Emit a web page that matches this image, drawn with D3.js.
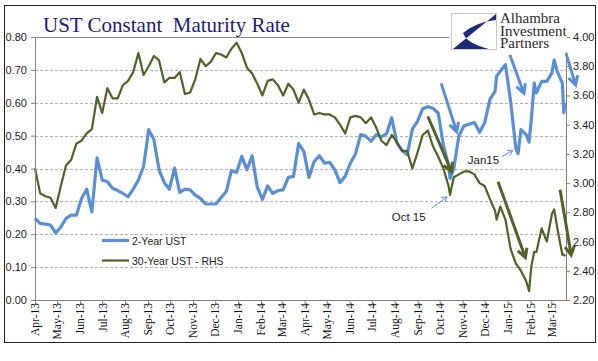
<!DOCTYPE html>
<html><head><meta charset="utf-8">
<script src="https://cdn.jsdelivr.net/npm/d3@7"></script>
<style>body{margin:0;background:#fff}svg{display:block}</style>
</head><body>
<svg id="c" width="598" height="361"></svg>
<script>
const dates = ["2013-04-01","2013-04-08","2013-04-15","2013-04-22","2013-04-29","2013-05-06","2013-05-13","2013-05-20","2013-05-27","2013-06-03","2013-06-10","2013-06-17","2013-06-24","2013-07-01","2013-07-08","2013-07-15","2013-07-22","2013-07-29","2013-08-05","2013-08-12","2013-08-19","2013-08-26","2013-09-02","2013-09-09","2013-09-16","2013-09-23","2013-09-30","2013-10-07","2013-10-14","2013-10-21","2013-10-28","2013-11-04","2013-11-11","2013-11-18","2013-11-25","2013-12-02","2013-12-09","2013-12-16","2013-12-23","2013-12-30","2014-01-06","2014-01-13","2014-01-20","2014-01-27","2014-02-03","2014-02-10","2014-02-17","2014-02-24","2014-03-03","2014-03-10","2014-03-17","2014-03-24","2014-03-31","2014-04-07","2014-04-14","2014-04-21","2014-04-28","2014-05-05","2014-05-12","2014-05-19","2014-05-26","2014-06-02","2014-06-09","2014-06-16","2014-06-23","2014-06-30","2014-07-07","2014-07-14","2014-07-21","2014-07-28","2014-08-04","2014-08-11","2014-08-18","2014-08-25","2014-09-01","2014-09-08","2014-09-15","2014-09-22","2014-09-29","2014-10-06","2014-10-13","2014-10-15","2014-10-20","2014-10-27","2014-11-03","2014-11-10","2014-11-17","2014-11-24","2014-12-01","2014-12-08","2014-12-15","2014-12-17","2014-12-22","2014-12-29","2015-01-05","2015-01-12","2015-01-15","2015-01-19","2015-01-26","2015-01-30","2015-02-02","2015-02-06","2015-02-09","2015-02-16","2015-02-23","2015-03-02","2015-03-05","2015-03-09","2015-03-16","2015-03-18","2015-03-20"];

const twoYearUST = [0.248,0.233,0.231,0.228,0.204,0.222,0.248,0.258,0.258,0.309,0.337,0.268,0.432,0.365,0.360,0.340,0.333,0.324,0.314,0.337,0.365,0.406,0.518,0.488,0.396,0.357,0.337,0.401,0.327,0.337,0.335,0.319,0.309,0.292,0.292,0.292,0.312,0.330,0.394,0.388,0.437,0.396,0.439,0.343,0.306,0.347,0.324,0.333,0.335,0.373,0.376,0.476,0.452,0.373,0.421,0.439,0.416,0.419,0.396,0.357,0.376,0.416,0.445,0.503,0.498,0.483,0.503,0.496,0.506,0.554,0.478,0.455,0.442,0.520,0.544,0.582,0.588,0.583,0.568,0.470,0.410,0.370,0.400,0.500,0.530,0.535,0.540,0.510,0.540,0.610,0.635,0.680,0.696,0.716,0.605,0.462,0.445,0.518,0.503,0.480,0.549,0.660,0.630,0.665,0.665,0.691,0.730,0.696,0.660,0.570,0.600];

const thirtyYearUST = [3.10,2.93,2.91,2.90,2.83,2.98,3.12,3.16,3.27,3.29,3.34,3.37,3.59,3.48,3.65,3.58,3.58,3.67,3.70,3.76,3.89,3.74,3.80,3.87,3.84,3.69,3.72,3.72,3.76,3.61,3.62,3.71,3.85,3.80,3.83,3.89,3.88,3.86,3.92,3.96,3.89,3.79,3.75,3.68,3.60,3.70,3.71,3.67,3.60,3.68,3.64,3.55,3.64,3.57,3.47,3.48,3.47,3.47,3.45,3.40,3.34,3.45,3.46,3.45,3.41,3.45,3.38,3.29,3.26,3.33,3.28,3.22,3.22,3.10,3.21,3.33,3.36,3.25,3.18,3.10,2.98,2.92,3.04,3.06,3.08,3.08,3.06,3.00,2.98,2.89,2.81,2.75,2.84,2.75,2.55,2.45,2.43,2.40,2.33,2.26,2.43,2.53,2.53,2.69,2.60,2.79,2.82,2.70,2.51,2.51,2.50];

const leftTicks = [0,0.1,0.2,0.3,0.4,0.5,0.6,0.7,0.8];
const rightTicks = [2.2,2.4,2.6,2.8,3.0,3.2,3.4,3.6,3.8,4.0];
const monthTicks = ["2013-04-01","2013-05-01","2013-06-01","2013-07-01","2013-08-01","2013-09-01","2013-10-01","2013-11-01","2013-12-01","2014-01-01","2014-02-01","2014-03-01","2014-04-01","2014-05-01","2014-06-01","2014-07-01","2014-08-01","2014-09-01","2014-10-01","2014-11-01","2014-12-01","2015-01-01","2015-02-01","2015-03-01"];
const seriesNames = ["2-Year UST","30-Year UST - RHS"];

// annotations in data units
const blueArrows = [[["2014-10-03",0.659],["2014-10-24",0.512]],[["2015-01-04",0.745],["2015-01-23",0.629]],[["2015-03-21",0.751],["2015-04-03",0.654]]];
const greenArrows = [[["2014-09-15",3.456],["2014-10-17",3.078]],[["2014-12-19",3.01],["2015-01-25",2.49]],[["2015-03-13",2.954],["2015-03-28",2.508]]];
const thinArrows = [[["2014-09-20",0.279],["2014-10-11",0.314]],[["2014-12-24",0.436],["2015-01-08",0.455]]];
const noteLabels = [["Oct 15","2014-07-28",0.239],["Jan15","2014-11-08",0.415]];

const parse = d3.timeParse("%Y-%m-%d");
const BLUE = "#5a8fd6", GREEN = "#4f6228";
const svg = d3.select("#c");
const L = 35, R = 566, T = 37, B = 300;
const x = d3.scaleTime().domain([parse("2013-04-01"), parse("2015-03-21")]).range([L, R]);
const yL = d3.scaleLinear().domain([0, 0.8]).range([B, T]);
const yR = d3.scaleLinear().domain([2.2, 4.0]).range([B, T]);

svg.append("rect").attr("width",598).attr("height",361).attr("fill","#fff");
svg.append("rect").attr("x",4.5).attr("y",5.5).attr("width",591).attr("height",337)
  .attr("fill","none").attr("stroke","#222").attr("stroke-width",1);

// gridlines
leftTicks.forEach(v => {
  if (v === 0) return;
  svg.append("line").attr("x1",L).attr("x2",R).attr("y1",Math.round(yL(v))+0.5).attr("y2",Math.round(yL(v))+0.5)
    .attr("stroke", v===0.8 ? "#8c8c8c" : "#b3b3b3").attr("stroke-width",1)
    .attr("stroke-dasharray", v===0.8 ? null : "3,2");
});

// series
const pts = dates.map(parse);
const lineL = d3.line().x((d,i)=>x(pts[i])).y(d=>yL(d));
const lineR = d3.line().x((d,i)=>x(pts[i])).y(d=>yR(d));
svg.append("path").attr("d", lineL(twoYearUST)).attr("fill","none").attr("stroke",BLUE).attr("stroke-width",3.2).attr("stroke-linejoin","round");
svg.append("path").attr("d", lineR(thirtyYearUST)).attr("fill","none").attr("stroke",GREEN).attr("stroke-width",2.2).attr("stroke-linejoin","round");

// axes
const fmt = d3.timeFormat("%b-%y");
const xa = svg.append("g").attr("transform",`translate(0,${B})`)
  .call(d3.axisBottom(x).tickValues(monthTicks.map(parse)).tickFormat(fmt).tickSize(4).tickSizeOuter(0));
xa.selectAll("text").attr("transform","rotate(-90)").attr("text-anchor","end")
  .attr("x",-3).attr("y",0).attr("dy","0.33em")
  .style("font-family","'Liberation Serif','Times New Roman',serif").style("font-size","11.5px").attr("fill","#111");

const ya = svg.append("g").attr("transform",`translate(${L},0)`)
  .call(d3.axisLeft(yL).tickValues(leftTicks).tickFormat(d3.format(".2f")).tickSize(4).tickPadding(4).tickSizeOuter(0));
ya.selectAll("text").style("font-family","'Liberation Sans',Arial,sans-serif").style("font-size","11px").attr("fill","#222");

const yra = svg.append("g").attr("transform",`translate(${R},0)`)
  .call(d3.axisRight(yR).tickValues(rightTicks).tickFormat(d3.format(".2f")).tickSize(4).tickPadding(3).tickSizeOuter(0));
yra.selectAll("text").style("font-family","'Liberation Sans',Arial,sans-serif").style("font-size","11px").attr("fill","#222");

[xa,ya,yra].forEach(g => { g.selectAll("path,line").attr("stroke","#808080"); });

// arrows
function arrow(p1, p2, ys, color, w, head) {
  const x1 = x(parse(p1[0])), y1 = ys(p1[1]), x2 = x(parse(p2[0])), y2 = ys(p2[1]);
  const a = Math.atan2(y2-y1, x2-x1), s = 0.5;
  const w1 = [x2 - head*Math.cos(a - s), y2 - head*Math.sin(a - s)];
  const w2 = [x2 - head*Math.cos(a + s), y2 - head*Math.sin(a + s)];
  svg.append("path").attr("d",`M${x1},${y1}L${x2},${y2}M${w1[0]},${w1[1]}L${x2},${y2}L${w2[0]},${w2[1]}`)
    .attr("fill","none").attr("stroke",color).attr("stroke-width",w).attr("stroke-linecap","butt").attr("stroke-linejoin","miter");
}
blueArrows.forEach(a => arrow(a[0], a[1], yL, BLUE, 3, 10));
greenArrows.forEach(a => arrow(a[0], a[1], yR, GREEN, 3, 10));
thinArrows.forEach(a => arrow(a[0], a[1], yL, BLUE, 1, 6));
noteLabels.forEach(n => svg.append("text").attr("x", x(parse(n[1]))).attr("y", yL(n[2])).text(n[0])
  .style("font-family","'Liberation Sans',Arial,sans-serif").style("font-size","11.5px").attr("fill","#222"));

// legend
const leg = svg.append("g");
[[BLUE,3.2,240.5],[GREEN,2.2,260.5]].forEach((s,i) => {
  leg.append("line").attr("x1",102).attr("x2",129).attr("y1",s[2]).attr("y2",s[2]).attr("stroke",s[0]).attr("stroke-width",s[1]);
  leg.append("text").attr("x",132).attr("y",s[2]+4).text(seriesNames[i])
    .style("font-family","'Liberation Sans',Arial,sans-serif").style("font-size","10.5px").attr("fill","#222");
});

// title
svg.append("text").attr("x",43).attr("y",32).attr("xml:space","preserve").style("white-space","pre")
  .text("UST Constant  Maturity Rate")
  .style("font-family","'Liberation Serif','Times New Roman',serif").style("font-size","21px").attr("fill","#1b1b80");

// logo
svg.append("rect").attr("x",449).attr("y",10).attr("width",118).attr("height",42).attr("fill","#fff");
svg.append("rect").attr("x",451.5).attr("y",13.5).attr("width",45).attr("height",36).attr("fill","#fff").attr("stroke","#c8c8c8");
svg.append("path").attr("d","M496,14 L453,49 L489,49 Q466,43 463,33 Q476,22 496,20 Z").attr("fill","#1b2a7d");
["Alhambra","Investment","Partners"].forEach((t,i) => svg.append("text").attr("x",500).attr("y",23+i*12.5).text(t)
  .style("font-family","'Liberation Serif','Times New Roman',serif").style("font-size","15px").attr("fill","#2a2a2a"));
</script>
</body></html>
